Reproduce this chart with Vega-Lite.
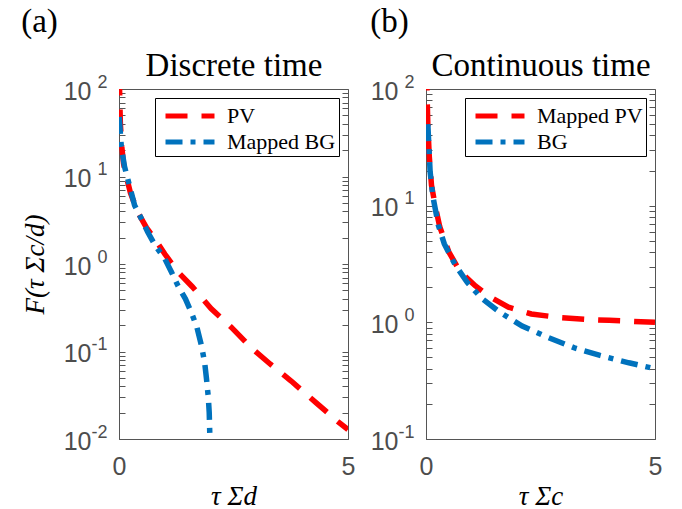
{
  "$schema": "https://vega.github.io/schema/vega-lite/v6.json",
  "background": "white",
  "padding": {"left": 20, "top": 5, "right": 2, "bottom": 2},
  "config": {
    "view": {"stroke": "#555555", "strokeWidth": 1},
    "axis": {
      "grid": false,
      "domain": false,
      "tickColor": "#555555",
      "tickSize": -6,
      "labelFont": "Liberation Sans",
      "labelFontSize": 25,
      "labelColor": "#4d4d4d",
      "labelOverlap": false,
      "labelFlush": false,
      "titleFont": "Liberation Serif",
      "titleFontWeight": "normal",
      "titleFontStyle": "italic",
      "titleFontSize": 27,
      "titleColor": "black"
    },
    "legend": {
      "labelFont": "Liberation Serif",
      "labelFontSize": 22,
      "labelColor": "black"
    },
    "title": {"font": "Liberation Serif", "fontSize": 33, "fontWeight": "normal", "color": "black"},
    "concat": {"spacing": 13}
  },
  "datasets": {
    "curves": [
      {"panel": "a", "series": "PV", "x": 0.005, "y": 150},
      {"panel": "a", "series": "PV", "x": 0.01, "y": 110},
      {"panel": "a", "series": "PV", "x": 0.03, "y": 40},
      {"panel": "a", "series": "PV", "x": 0.06, "y": 22},
      {"panel": "a", "series": "PV", "x": 0.1, "y": 14},
      {"panel": "a", "series": "PV", "x": 0.16, "y": 10},
      {"panel": "a", "series": "PV", "x": 0.25, "y": 6.5},
      {"panel": "a", "series": "PV", "x": 0.41, "y": 3.9},
      {"panel": "a", "series": "PV", "x": 0.6, "y": 2.6},
      {"panel": "a", "series": "PV", "x": 0.78, "y": 1.95},
      {"panel": "a", "series": "PV", "x": 1.0, "y": 1.3},
      {"panel": "a", "series": "PV", "x": 1.29, "y": 0.81},
      {"panel": "a", "series": "PV", "x": 1.6, "y": 0.55},
      {"panel": "a", "series": "PV", "x": 2.01, "y": 0.31},
      {"panel": "a", "series": "PV", "x": 2.45, "y": 0.19},
      {"panel": "a", "series": "PV", "x": 2.89, "y": 0.11},
      {"panel": "a", "series": "PV", "x": 3.3, "y": 0.072},
      {"panel": "a", "series": "PV", "x": 3.76, "y": 0.046},
      {"panel": "a", "series": "PV", "x": 4.3, "y": 0.026},
      {"panel": "a", "series": "PV", "x": 4.78, "y": 0.0158},
      {"panel": "a", "series": "PV", "x": 5.0, "y": 0.0128},
      {"panel": "a", "series": "Mapped BG", "x": 0.005, "y": 48},
      {"panel": "a", "series": "Mapped BG", "x": 0.05, "y": 22},
      {"panel": "a", "series": "Mapped BG", "x": 0.12, "y": 13},
      {"panel": "a", "series": "Mapped BG", "x": 0.2, "y": 9},
      {"panel": "a", "series": "Mapped BG", "x": 0.34, "y": 4.7},
      {"panel": "a", "series": "Mapped BG", "x": 0.5, "y": 3.2},
      {"panel": "a", "series": "Mapped BG", "x": 0.63, "y": 2.3},
      {"panel": "a", "series": "Mapped BG", "x": 0.8, "y": 1.6},
      {"panel": "a", "series": "Mapped BG", "x": 1.0, "y": 1.15},
      {"panel": "a", "series": "Mapped BG", "x": 1.15, "y": 0.8},
      {"panel": "a", "series": "Mapped BG", "x": 1.29, "y": 0.56},
      {"panel": "a", "series": "Mapped BG", "x": 1.45, "y": 0.4},
      {"panel": "a", "series": "Mapped BG", "x": 1.58, "y": 0.28},
      {"panel": "a", "series": "Mapped BG", "x": 1.7, "y": 0.19},
      {"panel": "a", "series": "Mapped BG", "x": 1.8, "y": 0.117},
      {"panel": "a", "series": "Mapped BG", "x": 1.87, "y": 0.075},
      {"panel": "a", "series": "Mapped BG", "x": 1.91, "y": 0.049},
      {"panel": "a", "series": "Mapped BG", "x": 1.95, "y": 0.03},
      {"panel": "a", "series": "Mapped BG", "x": 1.97, "y": 0.02},
      {"panel": "a", "series": "Mapped BG", "x": 1.99, "y": 0.008},
      {"panel": "b", "series": "Mapped PV", "x": 0.01, "y": 150},
      {"panel": "b", "series": "Mapped PV", "x": 0.02, "y": 100},
      {"panel": "b", "series": "Mapped PV", "x": 0.04, "y": 50},
      {"panel": "b", "series": "Mapped PV", "x": 0.07, "y": 27},
      {"panel": "b", "series": "Mapped PV", "x": 0.12, "y": 15},
      {"panel": "b", "series": "Mapped PV", "x": 0.2, "y": 10},
      {"panel": "b", "series": "Mapped PV", "x": 0.3, "y": 6.6},
      {"panel": "b", "series": "Mapped PV", "x": 0.5, "y": 4.0},
      {"panel": "b", "series": "Mapped PV", "x": 0.75, "y": 2.7},
      {"panel": "b", "series": "Mapped PV", "x": 1.08, "y": 2.05},
      {"panel": "b", "series": "Mapped PV", "x": 1.4, "y": 1.65},
      {"panel": "b", "series": "Mapped PV", "x": 1.8, "y": 1.35},
      {"panel": "b", "series": "Mapped PV", "x": 2.3, "y": 1.18},
      {"panel": "b", "series": "Mapped PV", "x": 2.9, "y": 1.1},
      {"panel": "b", "series": "Mapped PV", "x": 3.5, "y": 1.06},
      {"panel": "b", "series": "Mapped PV", "x": 4.0, "y": 1.04},
      {"panel": "b", "series": "Mapped PV", "x": 4.5, "y": 1.02},
      {"panel": "b", "series": "Mapped PV", "x": 5.0, "y": 1.0},
      {"panel": "b", "series": "BG", "x": 0.04, "y": 50},
      {"panel": "b", "series": "BG", "x": 0.09, "y": 19.5},
      {"panel": "b", "series": "BG", "x": 0.15, "y": 12},
      {"panel": "b", "series": "BG", "x": 0.27, "y": 6.8},
      {"panel": "b", "series": "BG", "x": 0.4, "y": 4.7},
      {"panel": "b", "series": "BG", "x": 0.64, "y": 3.1},
      {"panel": "b", "series": "BG", "x": 0.9, "y": 2.2},
      {"panel": "b", "series": "BG", "x": 1.22, "y": 1.6},
      {"panel": "b", "series": "BG", "x": 1.6, "y": 1.23},
      {"panel": "b", "series": "BG", "x": 2.1, "y": 0.93},
      {"panel": "b", "series": "BG", "x": 2.6, "y": 0.76},
      {"panel": "b", "series": "BG", "x": 3.26, "y": 0.6},
      {"panel": "b", "series": "BG", "x": 3.8, "y": 0.52},
      {"panel": "b", "series": "BG", "x": 4.43, "y": 0.45},
      {"panel": "b", "series": "BG", "x": 5.0, "y": 0.4}
    ]
  },
  "hconcat": [
    {
      "width": 229,
      "height": 350,
      "title": {"text": "(a)", "anchor": "start", "frame": "bounds", "offset": 10},
      "data": {"name": "curves"},
      "transform": [{"filter": "datum.panel == 'a'"}],
      "resolve": {"axis": {"x": "independent", "y": "independent"}},
      "layer": [
        {
          "mark": {"type": "line", "strokeWidth": 5.5, "clip": true, "strokeCap": "butt"},
          "encoding": {
            "x": {"field": "x", "type": "quantitative", "scale": {"domain": [0, 5], "nice": false},
              "axis": {"values": [0, 5], "title": "τ Σd", "labelPadding": 21, "titlePadding": 4}},
            "y": {"field": "y", "type": "quantitative", "scale": {"type": "log", "domain": [0.01, 100], "nice": false},
              "axis": {"values": [0.01,0.02,0.03,0.04,0.05,0.06,0.07,0.08,0.09,0.1,0.2,0.3,0.4,0.5,0.6,0.7,0.8,0.9,1,2,3,4,5,6,7,8,9,10,20,30,40,50,60,70,80,90,100],
                "labelExpr": "datum.value == 100 ? '2' : datum.value == 10 ? '1' : datum.value == 1 ? '0' : datum.value == 0.1 ? '-1' : datum.value == 0.01 ? '-2' : ''",
                "labelFontSize": 18, "labelOffset": -7, "labelPadding": 18, "title": null}},
            "color": {"field": "series", "type": "nominal", "sort": ["PV", "Mapped BG"],
              "scale": {"domain": ["PV", "Mapped BG"], "range": ["#ff0000", "#0072bd"]},
              "legend": {"title": null, "orient": "top-right", "offset": 9, "labelFont": "Liberation Serif", "labelFontSize": 22, "labelColor": "black", "symbolType": "M-2,0H2", "symbolSize": 600, "symbolStrokeWidth": 5, "symbolOffset": 17, "labelOffset": 22, "strokeColor": "black", "fillColor": "white", "padding": 3, "rowPadding": -4, "cornerRadius": 0,
                "encode": {"labels": {"update": {"font": {"value": "Liberation Serif"}, "fontSize": {"value": 22}}}}}},
            "strokeDash": {"field": "series", "type": "nominal", "sort": ["PV", "Mapped BG"],
              "scale": {"domain": ["PV", "Mapped BG"], "range": [[22, 14], [17, 8, 5, 8]]},
              "legend": {"title": null, "orient": "top-right", "offset": 9, "labelFont": "Liberation Serif", "labelFontSize": 22, "labelColor": "black", "symbolType": "M-2,0H2", "symbolSize": 600, "symbolStrokeWidth": 5, "symbolOffset": 17, "labelOffset": 22, "strokeColor": "black", "fillColor": "white", "padding": 3, "rowPadding": -4, "cornerRadius": 0,
                "encode": {"labels": {"update": {"font": {"value": "Liberation Serif"}, "fontSize": {"value": 22}}}}}}
          }
        },
        {
          "mark": {"type": "line", "strokeOpacity": 0},
          "encoding": {
            "x": {"field": "x", "type": "quantitative",
              "axis": {"orient": "top", "values": [0, 5], "labels": false, "ticks": false, "title": "Discrete time", "titleFontStyle": "normal", "titleFontSize": 33, "titlePadding": 7}},
            "y": {"field": "y", "type": "quantitative",
              "axis": {"orient": "right", "values": [0.01,0.02,0.03,0.04,0.05,0.06,0.07,0.08,0.09,0.1,0.2,0.3,0.4,0.5,0.6,0.7,0.8,0.9,1,2,3,4,5,6,7,8,9,10,20,30,40,50,60,70,80,90,100], "labels": false, "title": null}}
          }
        },
        {
          "mark": {"type": "line", "strokeOpacity": 0},
          "encoding": {
            "x": {"field": "x", "type": "quantitative", "axis": null},
            "y": {"field": "y", "type": "quantitative",
              "axis": {"orient": "left", "values": [0.01, 0.1, 1, 10, 100], "ticks": false, "tickSize": 0, "labelPadding": 28, "labelOffset": 2,
                "labelExpr": "datum.value < 0.5 ? '10\u2009' : '10'",
                "title": "F(τ Σc/d)", "titlePadding": 14}}
          }
        }
      ]
    },
    {
      "width": 229,
      "height": 350,
      "title": {"text": "(b)", "anchor": "start", "frame": "bounds", "offset": 10},
      "data": {"name": "curves"},
      "transform": [{"filter": "datum.panel == 'b'"}],
      "resolve": {"axis": {"x": "independent", "y": "independent"}},
      "layer": [
        {
          "mark": {"type": "line", "strokeWidth": 5.5, "clip": true, "strokeCap": "butt"},
          "encoding": {
            "x": {"field": "x", "type": "quantitative", "scale": {"domain": [0, 5], "nice": false},
              "axis": {"values": [0, 5], "title": "τ Σc", "labelPadding": 21, "titlePadding": 4}},
            "y": {"field": "y", "type": "quantitative", "scale": {"type": "log", "domain": [0.1, 100], "nice": false},
              "axis": {"values": [0.1,0.2,0.3,0.4,0.5,0.6,0.7,0.8,0.9,1,2,3,4,5,6,7,8,9,10,20,30,40,50,60,70,80,90,100],
                "labelExpr": "datum.value == 100 ? '2' : datum.value == 10 ? '1' : datum.value == 1 ? '0' : datum.value == 0.1 ? '-1' : ''",
                "labelFontSize": 18, "labelOffset": -7, "labelPadding": 18, "title": null}},
            "color": {"field": "series", "type": "nominal", "sort": ["Mapped PV", "BG"],
              "scale": {"domain": ["Mapped PV", "BG"], "range": ["#ff0000", "#0072bd"]},
              "legend": {"title": null, "orient": "top-right", "offset": 9, "labelFont": "Liberation Serif", "labelFontSize": 22, "labelColor": "black", "symbolType": "M-2,0H2", "symbolSize": 600, "symbolStrokeWidth": 5, "symbolOffset": 17, "labelOffset": 22, "strokeColor": "black", "fillColor": "white", "padding": 3, "rowPadding": -4, "cornerRadius": 0,
                "encode": {"labels": {"update": {"font": {"value": "Liberation Serif"}, "fontSize": {"value": 22}}}}}},
            "strokeDash": {"field": "series", "type": "nominal", "sort": ["Mapped PV", "BG"],
              "scale": {"domain": ["Mapped PV", "BG"], "range": [[22, 14], [17, 8, 5, 8]]},
              "legend": {"title": null, "orient": "top-right", "offset": 9, "labelFont": "Liberation Serif", "labelFontSize": 22, "labelColor": "black", "symbolType": "M-2,0H2", "symbolSize": 600, "symbolStrokeWidth": 5, "symbolOffset": 17, "labelOffset": 22, "strokeColor": "black", "fillColor": "white", "padding": 3, "rowPadding": -4, "cornerRadius": 0,
                "encode": {"labels": {"update": {"font": {"value": "Liberation Serif"}, "fontSize": {"value": 22}}}}}}
          }
        },
        {
          "mark": {"type": "line", "strokeOpacity": 0},
          "encoding": {
            "x": {"field": "x", "type": "quantitative",
              "axis": {"orient": "top", "values": [0, 5], "labels": false, "ticks": false, "title": "Continuous time", "titleFontStyle": "normal", "titleFontSize": 33, "titlePadding": 7}},
            "y": {"field": "y", "type": "quantitative",
              "axis": {"orient": "right", "values": [0.1,0.2,0.3,0.4,0.5,0.6,0.7,0.8,0.9,1,2,3,4,5,6,7,8,9,10,20,30,40,50,60,70,80,90,100], "labels": false, "title": null}}
          }
        },
        {
          "mark": {"type": "line", "strokeOpacity": 0},
          "encoding": {
            "x": {"field": "x", "type": "quantitative", "axis": null},
            "y": {"field": "y", "type": "quantitative",
              "axis": {"orient": "left", "values": [0.1, 1, 10, 100], "ticks": false, "tickSize": 0, "labelPadding": 28, "labelOffset": 2,
                "labelExpr": "datum.value < 0.5 ? '10\u2009' : '10'",
                "title": null}}
          }
        }
      ]
    }
  ],
  "resolve": {"scale": {"color": "independent", "strokeDash": "independent", "y": "independent"}, "legend": {"color": "independent", "strokeDash": "independent"}}
}
